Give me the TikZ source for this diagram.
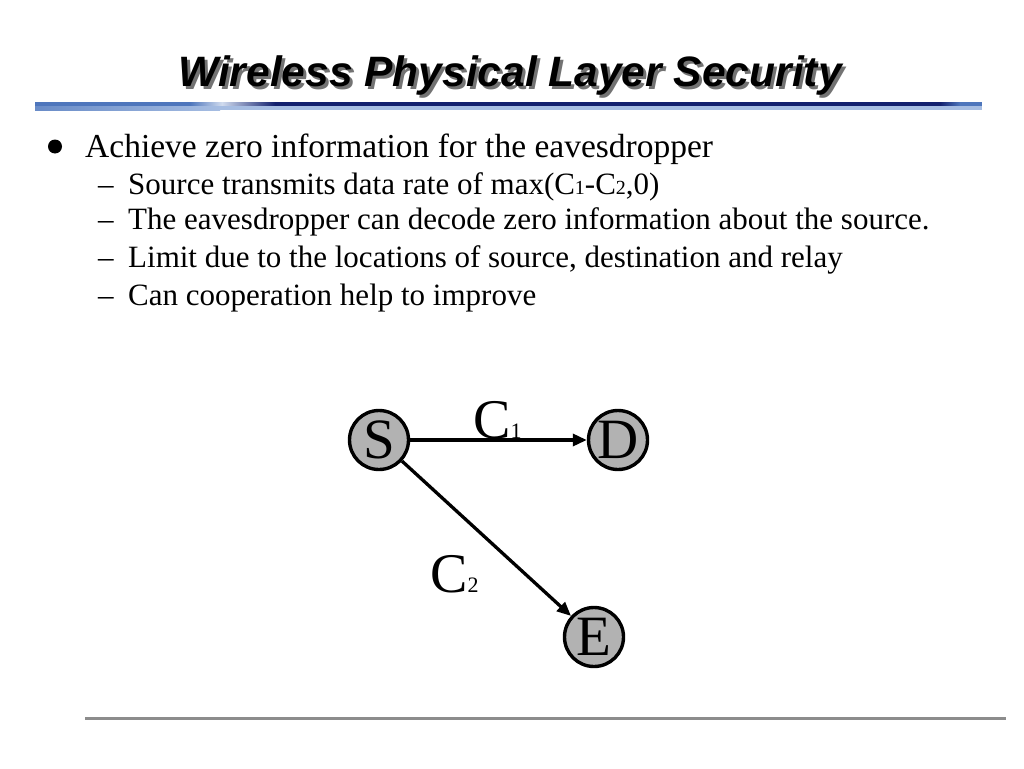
\documentclass[tikz,border=0pt]{standalone}
\usepackage{fontspec}
\setmainfont{Liberation Serif}
\newfontfamily\titlefont{Liberation Sans}
\usetikzlibrary{arrows.meta}
\definecolor{navy}{HTML}{12206E}
\definecolor{midblue}{HTML}{4E76BC}
\definecolor{paleblue}{HTML}{D0DBEE}
\definecolor{lightblue}{HTML}{A6BDE2}
\definecolor{nodegray}{HTML}{B2B2B2}
\tikzset{
  station/.style={circle, draw=black, line width=3.4pt, fill=nodegray, minimum size=59pt, inner sep=0pt, font=\fontsize{57}{57}\selectfont},
  link/.style={line width=3.3pt, -{Triangle[length=14pt,width=12pt]}},
  lvl1/.style={anchor=base west, inner sep=0pt, font=\fontsize{33.5}{34}\selectfont},
  lvl2/.style={anchor=base west, inner sep=0pt, font=\fontsize{31}{31}\selectfont},
  clabel/.style={anchor=base west, inner sep=0pt, font=\fontsize{56}{56}\selectfont},
  titlestyle/.style={anchor=base, inner sep=0pt, font=\titlefont\bfseries\itshape\fontsize{42.5}{43}\selectfont}
}
\newcommand{\smalldig}[1]{{\fontsize{20}{20}\selectfont #1}}
\newcommand{\labdig}[1]{{\fontsize{22}{22}\selectfont #1}}
\newcommand{\shadowed}[1]{\makebox[0pt][l]{\hspace{3pt}\raisebox{-3pt}{\textcolor{black!55}{#1}}}#1}
\begin{document}
\begin{tikzpicture}[x=1pt,y=-1pt]
\useasboundingbox[fill=white] (0,0) rectangle (1024,768);
% title
\node[titlestyle] (title) at (510,86) {\shadowed{Wireless Physical Layer Security}};
% header bar
\fill[midblue] (35,102) rectangle (190,106);
\shade[left color=midblue, right color=paleblue] (190,102) rectangle (222,106);
\shade[left color=paleblue, right color=navy] (222,102) rectangle (275,106);
\fill[navy] (275,102) rectangle (940,106);
\shade[left color=navy, right color=midblue] (940,102) rectangle (960,106);
\fill[midblue] (960,102) rectangle (982,106);
\shade[left color=midblue!70!lightblue, right color=lightblue] (35,106) rectangle (220,110);
\fill[lightblue] (220,106) rectangle (982,110);
% bullets
\fill (55,146.5) circle (7pt) coordinate (b0);
\node[lvl1] (t1) at (85,157) {Achieve zero information for the eavesdropper};
\node[lvl2] (d1) at (98,194) {--};
\node[lvl2] (t2) at (128,194) {Source transmits data rate of max(C\smalldig{1}-C\smalldig{2},0)};
\node[lvl2] (d2) at (98,229) {--};
\node[lvl2] (t3) at (128,229) {The eavesdropper can decode zero information about the source.};
\node[lvl2] (d3) at (98,267) {--};
\node[lvl2] (t4) at (128,267) {Limit due to the locations of source, destination and relay};
\node[lvl2] (d4) at (98,305) {--};
\node[lvl2] (t5) at (128,305) {Can cooperation help to improve};
% diagram
\node[station] (S) at (379,440) {S};
\node[station] (D) at (618,440) {D};
\node[station] (E) at (594,637) {E};
\draw[link] (S) -- (D);
\draw[link] (S) -- (E);
\node[clabel] (c1) at (473,438) {C\labdig{1}};
\node[clabel] (c2) at (430,592) {C\labdig{2}};
% footer line
\draw[line width=3pt, color=gray!90] (85,718) coordinate (fl) -- (1006,718) coordinate (fr);
\end{tikzpicture}
\end{document}
